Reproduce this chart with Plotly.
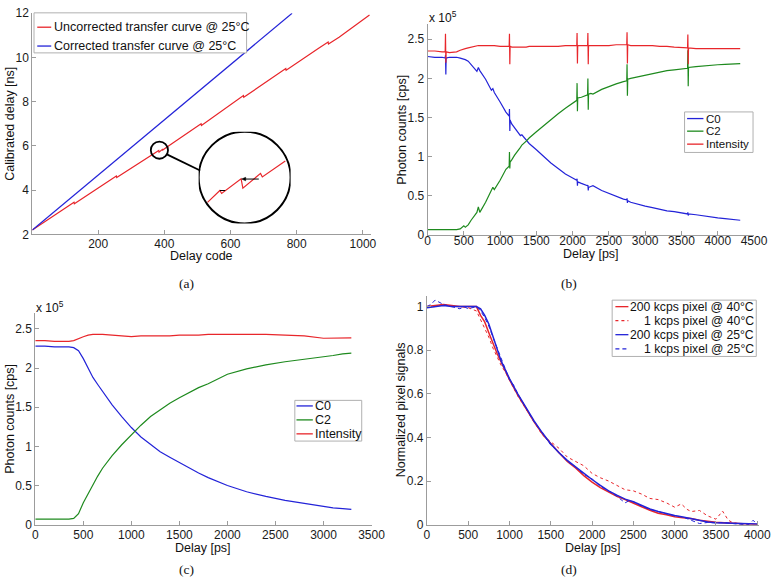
import plotly.graph_objects as go

W, H = 782, 586

# ---------------- data ----------------
# (a) transfer curves
a_uncorr_code = [1, 32, 64, 96, 127, 128, 160, 192, 224, 255, 256, 288, 320, 352, 364,
                 371, 372, 383, 384, 394, 395, 408, 440, 476, 511, 512, 544, 576, 608,
                 639, 640, 672, 704, 736, 767, 768, 800, 832, 864, 895, 896, 928, 960, 992, 1020]
a_uncorr_ns = [2.20, 2.52, 2.85, 3.17, 3.46, 3.39, 3.70, 4.03, 4.35, 4.64, 4.57, 4.88, 5.20, 5.50, 5.60,
               5.70, 5.675, 5.80, 5.72, 5.845, 5.815, 5.95, 6.28, 6.65, 7.00, 6.93, 7.27, 7.62, 7.96,
               8.28, 8.20, 8.52, 8.86, 9.19, 9.50, 9.42, 9.73, 10.06, 10.39, 10.70, 10.61, 10.92, 11.27, 11.61, 11.92]
a_corr_code = [1, 786]
a_corr_ns = [2.20, 12.0]

# magnified region (centre and half-size in data units)
mag_center = (385, 5.81)
mag_half = (26.0, 0.388)

# (b) photon counts with artefact spikes (x 1e5 cps)
b_delay = [0, 100, 200,
           243, 247, 252, 256,
           300, 400, 450, 500, 520, 560, 600, 650, 680, 700, 720, 800, 880, 900, 920, 1000, 1080,
           1125, 1129, 1134, 1138,
           1160, 1200, 1280, 1300, 1360, 1400, 1500, 1600, 1700, 1800, 1900, 2000,
           2057, 2061, 2066, 2070,
           2120,
           2206, 2210, 2215, 2219,
           2250, 2280, 2400, 2500, 2600, 2700,
           2746, 2750, 2755, 2759,
           2800, 2900, 3000, 3100, 3200, 3300, 3400, 3500,
           3584, 3588, 3593, 3597,
           3700, 3800, 3900, 4000, 4100, 4200, 4310]
b_c0 = [2.28, 2.27, 2.27,
        2.26, 2.30, 2.05, 2.26,
        2.27, 2.27, 2.26, 2.25, 2.24, 2.22, 2.18, 2.13, 2.09, 2.14, 2.10, 1.99, 1.85, 1.87, 1.82, 1.70, 1.57,
        1.52, 1.61, 1.33, 1.47,
        1.42, 1.37, 1.27, 1.28, 1.21, 1.17, 1.09, 1.00, 0.92, 0.85, 0.78, 0.73,
        0.70, 0.72, 0.63, 0.68,
        0.66,
        0.63, 0.64, 0.57, 0.61,
        0.62, 0.63, 0.57, 0.53, 0.50, 0.46,
        0.45, 0.47, 0.41, 0.44,
        0.42, 0.39, 0.37, 0.35, 0.33, 0.31, 0.30, 0.28,
        0.27, 0.29, 0.25, 0.27,
        0.26, 0.245, 0.23, 0.22, 0.21, 0.20, 0.19]
b_c2 = [0.07, 0.07, 0.07,
        0.07, 0.07, 0.07, 0.07,
        0.07, 0.07, 0.08, 0.12, 0.10, 0.13, 0.19, 0.25, 0.29, 0.36, 0.29, 0.42, 0.56, 0.61, 0.58, 0.70, 0.84,
        0.88, 1.06, 0.85, 0.93,
        0.96, 1.02, 1.12, 1.15, 1.20, 1.24, 1.32, 1.40, 1.48, 1.55, 1.62, 1.69,
        1.72, 1.94, 1.58, 1.75,
        1.76,
        1.79, 2.00, 1.60, 1.80,
        1.81, 1.80, 1.86, 1.90, 1.93, 1.96,
        1.97, 2.18, 1.78, 1.99,
        2.00, 2.02, 2.04, 2.06, 2.08, 2.10, 2.11, 2.12,
        2.13, 2.36, 1.90, 2.14,
        2.15, 2.16, 2.17, 2.175, 2.18, 2.185, 2.19]
b_intensity = [2.35, 2.35, 2.34,
               2.34, 2.57, 2.20, 2.34,
               2.33, 2.34, 2.36, 2.38, 2.38, 2.39, 2.40, 2.41, 2.42, 2.42, 2.42, 2.42, 2.42, 2.42, 2.42, 2.41, 2.41,
               2.41, 2.57, 2.18, 2.41,
               2.40, 2.40, 2.40, 2.40, 2.40, 2.41, 2.41, 2.41, 2.41, 2.41, 2.42, 2.42,
               2.42, 2.58, 2.19, 2.42,
               2.42,
               2.42, 2.58, 2.18, 2.42,
               2.42, 2.42, 2.42, 2.42, 2.43, 2.43,
               2.43, 2.59, 2.19, 2.43,
               2.42, 2.42, 2.42, 2.42, 2.41, 2.41, 2.40, 2.39,
               2.39, 2.56, 2.18, 2.39,
               2.38, 2.38, 2.38, 2.38, 2.38, 2.38, 2.38]

# (c) corrected photon counts (x 1e5 cps)
c_delay = [0, 100, 200, 300, 350, 400, 450, 500, 550, 600, 650, 700, 800, 900, 1000,
           1100, 1200, 1300, 1400, 1500, 1600, 1700, 1800, 1900, 2000, 2200, 2400, 2600,
           2800, 3000, 3100, 3200, 3290]
c_c0 = [2.28, 2.28, 2.27, 2.27, 2.27, 2.26, 2.22, 2.12, 2.00, 1.88, 1.79, 1.70, 1.53, 1.38, 1.24,
        1.12, 1.02, 0.93, 0.86, 0.79, 0.72, 0.66, 0.60, 0.55, 0.50, 0.42, 0.36, 0.31,
        0.27, 0.23, 0.215, 0.205, 0.195]
c_c2 = [0.07, 0.07, 0.07, 0.07, 0.07, 0.08, 0.14, 0.28, 0.40, 0.52, 0.62, 0.72, 0.88, 1.02, 1.15,
        1.27, 1.38, 1.47, 1.55, 1.62, 1.69, 1.75, 1.80, 1.86, 1.92, 1.99, 2.04, 2.08,
        2.11, 2.14, 2.16, 2.18, 2.19]
c_intensity = [2.35, 2.35, 2.34, 2.34, 2.34, 2.35, 2.38, 2.40, 2.42, 2.43, 2.43, 2.43, 2.42, 2.41, 2.40,
               2.41, 2.41, 2.41, 2.41, 2.42, 2.42, 2.42, 2.43, 2.43, 2.43, 2.43, 2.43, 2.42,
               2.41, 2.38, 2.385, 2.385, 2.385]

# (d) normalized pixel signals
d_delay_200k = [0, 100, 200, 300, 400, 500, 600, 650, 700, 750, 800, 850, 900, 950, 1000,
                1100, 1200, 1300, 1400, 1500, 1600, 1700, 1800, 1900, 2000,
                2100, 2200, 2300, 2400, 2500, 2600, 2700, 2800, 2900, 3000,
                3100, 3200, 3300, 3400, 3500, 3600, 3700, 3800, 3900, 4000]
d_200k_40C = [1.0, 1.005, 1.01, 1.005, 1.0, 1.0, 1.0, 0.96, 0.93, 0.88, 0.83, 0.785, 0.745, 0.705, 0.665,
              0.595, 0.53, 0.47, 0.415, 0.37, 0.33, 0.29, 0.26, 0.225, 0.195,
              0.17, 0.15, 0.13, 0.115, 0.1, 0.082, 0.066, 0.052, 0.045, 0.036,
              0.032, 0.028, 0.02, 0.014, 0.011, 0.009, 0.007, 0.005, 0.003, 0.001]
d_200k_25C = [0.995, 1.0, 1.005, 1.0, 1.0, 1.0, 1.0, 0.99, 0.96, 0.92, 0.86, 0.80, 0.75, 0.71, 0.67,
              0.60, 0.535, 0.475, 0.42, 0.37, 0.33, 0.295, 0.265, 0.235, 0.207,
              0.18, 0.155, 0.135, 0.117, 0.105, 0.088, 0.072, 0.06, 0.05, 0.042,
              0.035, 0.027, 0.018, 0.012, 0.009, 0.007, 0.006, 0.005, 0.004, 0.003]
d_delay_1k_40C = [0, 100, 200, 300, 400, 500, 600, 650, 700, 750, 800, 850, 900, 950, 1000,
                  1100, 1200, 1300, 1400, 1500, 1600, 1700, 1800, 1900, 2000,
                  2100, 2200, 2300, 2400, 2500, 2600, 2700, 2800, 2900, 3000,
                  3080, 3150, 3200, 3300, 3400, 3500, 3580, 3650, 3700, 3800, 3900]
d_1k_40C = [1.0, 1.0, 1.01, 1.0, 1.0, 0.995, 0.98, 0.94, 0.90, 0.86, 0.81, 0.77, 0.73, 0.70, 0.665,
            0.59, 0.53, 0.47, 0.41, 0.38, 0.35, 0.31, 0.29, 0.27, 0.235,
            0.215, 0.20, 0.18, 0.16, 0.155, 0.14, 0.12, 0.115, 0.10, 0.08,
            0.095, 0.07, 0.06, 0.065, 0.04, 0.025, 0.062, 0.02, 0.01, 0.003, 0.0]
d_delay_1k_25C = [0, 50, 100, 150, 200, 300, 400, 450, 500, 600, 650, 700, 750, 800, 850,
                  900, 950, 1000, 1050, 1100, 1200, 1300, 1400, 1500, 1600, 1700, 1800,
                  1900, 2000, 2100, 2200, 2300, 2400, 2450, 2500, 2600, 2700, 2800, 2900,
                  3000, 3100, 3200, 3300, 3400, 3500, 3600, 3700, 3800, 3900, 3950, 4000]
d_1k_25C = [1.0, 1.01, 1.03, 1.02, 1.01, 1.0, 0.99, 1.0, 0.99, 1.0, 0.98, 0.95, 0.91, 0.86, 0.81,
            0.76, 0.71, 0.665, 0.64, 0.60, 0.535, 0.47, 0.42, 0.365, 0.33, 0.29, 0.265,
            0.23, 0.21, 0.175, 0.155, 0.13, 0.10, 0.11, 0.105, 0.085, 0.07, 0.06, 0.05,
            0.04, 0.035, 0.02, 0.005, 0.01, 0.008, 0.01, 0.005, 0.0, 0.0, 0.02, 0.0]

# ---------------- styling ----------------
RED = "#e8262b"
BLUE = "#2323d8"
GREEN = "#1e8a1e"
AXC = "#9c9c9c"
SANS = "Liberation Sans, Arial, sans-serif"
SERIF = "Liberation Serif, Times New Roman, serif"


def PX(p):
    return p / W


def PY(p):
    return 1 - p / H


fig = go.Figure()


def line(x, y, color, name, xa, ya, dash="solid", width=1.2):
    fig.add_trace(go.Scatter(x=x, y=y, mode="lines", name=name, showlegend=False,
                             line=dict(color=color, width=width, dash=dash),
                             xaxis=xa, yaxis=ya, hoverinfo="skip"))


# (a)
line(a_uncorr_code, a_uncorr_ns, RED, "Uncorrected transfer curve @ 25°C", "x", "y")
line(a_corr_code, a_corr_ns, BLUE, "Corrected transfer curve @ 25°C", "x", "y")
# inset: same data, restricted to the part of the magnified window inside the lens
lo, hi = mag_center[0] - mag_half[0] * 0.81, mag_center[0] + mag_half[0] * 0.9
ins = [(c, v) for c, v in zip(a_uncorr_code, a_uncorr_ns) if lo <= c <= hi]
line([p[0] for p in ins], [p[1] for p in ins], RED, "inset", "x5", "y5")

# (b)
line(b_delay, b_c0, BLUE, "C0", "x2", "y2")
line(b_delay, b_c2, GREEN, "C2", "x2", "y2")
line(b_delay, b_intensity, RED, "Intensity", "x2", "y2")

# (c)
line(c_delay, c_c0, BLUE, "C0", "x3", "y3")
line(c_delay, c_c2, GREEN, "C2", "x3", "y3")
line(c_delay, c_intensity, RED, "Intensity", "x3", "y3")

# (d)
line(d_delay_200k, d_200k_40C, RED, "200 kcps pixel @ 40°C", "x4", "y4", width=1.5)
line(d_delay_1k_40C, d_1k_40C, RED, "1 kcps pixel @ 40°C", "x4", "y4", dash="3px,3px", width=1.0)
line(d_delay_200k, d_200k_25C, BLUE, "200 kcps pixel @ 25°C", "x4", "y4", width=1.5)
line(d_delay_1k_25C, d_1k_25C, BLUE, "1 kcps pixel @ 25°C", "x4", "y4", dash="4px,3px", width=1.0)


def ax(domain, rng, dtick, anchor, standoff=0):
    return dict(domain=domain, range=rng, dtick=dtick, tick0=0, anchor=anchor, showline=True,
                linecolor=AXC, linewidth=1, ticks="inside", ticklen=4, tickcolor=AXC,
                showgrid=False, zeroline=False, ticklabeloverflow="allow",
                ticklabelstandoff=standoff,
                tickfont=dict(family=SANS, size=12, color="#1a1a1a"))


fig.update_layout(
    width=W, height=H, margin=dict(l=0, r=0, t=0, b=0),
    paper_bgcolor="white", plot_bgcolor="white", showlegend=False,
    xaxis=ax([PX(30), PX(376)], [1, 1024], 200, "y", -2),
    yaxis=ax([PY(233), PY(6.4)], [2, 12.0001], 2, "x"),
    xaxis2=ax([PX(434), PX(767.7)], [0, 4500], 500, "y2", -6),
    yaxis2=ax([PY(233.7), PY(17)], [0, 2.7], 0.5, "x2"),
    xaxis3=ax([PX(33), PX(376.7)], [0, 3500], 500, "y3", -1),
    yaxis3=ax([PY(530.3), PY(313.7)], [0, 2.7], 0.5, "x3"),
    xaxis4=ax([PX(433.3), PX(772.7)], [0, 4020], 500, "y4", -1),
    yaxis4=ax([PY(530.3), PY(296)], [0, 1.049], 0.2, "x4"),
    xaxis5=dict(domain=[PX(200), PX(294)], anchor="y5", visible=False,
                range=[mag_center[0] - mag_half[0], mag_center[0] + mag_half[0]]),
    yaxis5=dict(domain=[PY(221.7), PY(127.7)], anchor="x5", visible=False,
                range=[mag_center[1] - mag_half[1], mag_center[1] + mag_half[1]]),
)

shapes = []
# magnifier circles and connector
shapes.append(dict(type="circle", xref="x", yref="y",
                   x0=mag_center[0] - mag_half[0], x1=mag_center[0] + mag_half[0],
                   y0=mag_center[1] - mag_half[1], y1=mag_center[1] + mag_half[1],
                   line=dict(color="black", width=1.8)))
shapes.append(dict(type="circle", xref="x5", yref="y5",
                   x0=mag_center[0] - mag_half[0], x1=mag_center[0] + mag_half[0],
                   y0=mag_center[1] - mag_half[1], y1=mag_center[1] + mag_half[1],
                   line=dict(color="black", width=2)))
shapes.append(dict(type="line", xref="paper", yref="paper", x0=PX(167), y0=PY(150.7),
                   x1=PX(201.5), y1=PY(167.5), line=dict(color="black", width=1.8)))
# small marks inside the lens (arrow to the big step, tick at the small step)
shapes.append(dict(type="line", xref="x5", yref="y5", x0=371.0, y0=5.70, x1=374.0, y1=5.70,
                   line=dict(color="black", width=1)))
shapes.append(dict(type="line", xref="x5", yref="y5", x0=384.5, y0=5.797, x1=393.0, y1=5.797,
                   line=dict(color="black", width=1)))
shapes.append(dict(type="path", xref="x5", yref="y5",
                   path="M 383.3,5.797 L 385.6,5.812 L 385.6,5.782 Z",
                   fillcolor="black", line=dict(color="black", width=0.5)))

annotations = []


def legend_box(x0, y0, x1, y1, entries, sx0, sx1, tx, anchor, size=12.5):
    shapes.append(dict(type="rect", xref="paper", yref="paper", x0=PX(x0), x1=PX(x1),
                       y0=PY(y1), y1=PY(y0), fillcolor="white", line=dict(color="#b0b0b0", width=1),
                       layer="above"))
    for label, color, dash, yy in entries:
        shapes.append(dict(type="line", xref="paper", yref="paper", x0=PX(sx0), x1=PX(sx1),
                           y0=PY(yy), y1=PY(yy), line=dict(color=color, width=1.3, dash=dash),
                           layer="above"))
        annotations.append(dict(xref="paper", yref="paper", x=PX(tx), y=PY(yy), text=label,
                                showarrow=False, xanchor=anchor, yanchor="middle",
                                font=dict(family=SANS, size=size, color="#111")))


legend_box(31.7, 6, 249, 47,
           [("Uncorrected transfer curve @ 25°C", RED, "solid", 20.7),
            ("Corrected transfer curve @ 25°C", BLUE, "solid", 40)],
           35, 49.3, 50.5, "left")
legend_box(696.7, 107.5, 766.7, 149,
           [("C0", BLUE, "solid", 114.3), ("C2", GREEN, "solid", 127.2),
            ("Intensity", RED, "solid", 140.5)],
           699.3, 716, 716.5, "left", size=11.5)
legend_box(298.3, 403, 366.7, 444.7,
           [("C0", BLUE, "solid", 408.7), ("C2", GREEN, "solid", 423),
            ("Intensity", RED, "solid", 437.3)],
           300, 316.7, 317.2, "left")
legend_box(622.7, 300.3, 770, 358,
           [("200 kcps pixel @ 40°C", RED, "solid", 307),
            ("1 kcps pixel @ 40°C", RED, "3px,3px", 321.3),
            ("200 kcps pixel @ 25°C", BLUE, "solid", 335.7),
            ("1 kcps pixel @ 25°C", BLUE, "4px,3px", 350.3)],
           626, 639.3, 769.5, "right", size=12.2)


def text(x, y, s, size=12.5, angle=0, family=SANS, xanchor="center"):
    annotations.append(dict(xref="paper", yref="paper", x=PX(x), y=PY(y), text=s,
                            showarrow=False, textangle=angle, xanchor=xanchor, yanchor="middle",
                            font=dict(family=family, size=size, color="#111")))


# axis titles
text(7, 119.7, "Calibrated delay [ns]", angle=-90)
text(203, 255, "Delay code")
text(407, 125.5, "Photon counts [cps]", angle=-90)
text(601, 253, "Delay [ps]")
text(7, 422, "Photon counts [cps]", angle=-90)
text(204, 554, "Delay [ps]")
text(407, 413, "Normalized pixel signals", angle=-90)
text(603, 554, "Delay [ps]")
# exponent labels
text(433, 10.5, "x 10<sup>5</sup>", size=12, xanchor="left")
text(32, 307.5, "x 10<sup>5</sup>", size=12, xanchor="left")
# panel captions
text(188, 283.5, "(a)", size=13.5, family=SERIF)
text(579, 283.5, "(b)", size=13.5, family=SERIF)
text(188, 576.5, "(c)", size=13.5, family=SERIF)
text(579, 576.5, "(d)", size=13.5, family=SERIF)

fig.update_layout(shapes=shapes, annotations=annotations)
fig.write_html("out.html", config={"displayModeBar": False},
               post_script="document.body.style.margin='0px';")
